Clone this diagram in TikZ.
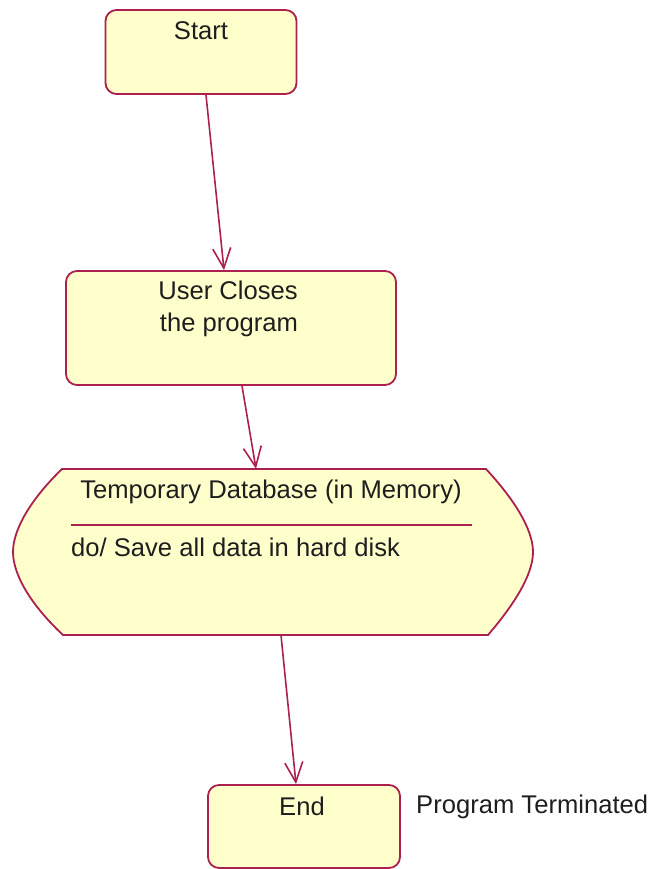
\documentclass[tikz,border=0pt]{standalone}
\usepackage{fontspec}
\setmainfont{Liberation Sans}
\usetikzlibrary{arrows.meta}
\definecolor{umlline}{RGB}{172,32,80}
\definecolor{umlfill}{RGB}{255,255,204}
\definecolor{umltext}{RGB}{30,30,30}
\tikzset{
  statebox/.style={draw=umlline, fill=umlfill, line width=1.8pt, rounded corners=11pt, inner sep=0pt},
  txt/.style={anchor=base, inner sep=0pt, text=umltext, font=\fontsize{25.6}{30}\selectfont},
  flow/.style={draw=umlline, line width=1.6pt, -{Straight Barb[length=20pt,width=18pt,line width=1.6pt]}},
  area/.style={inner sep=0pt, draw=none}
}
\begin{document}
\begin{tikzpicture}[x=1pt,y=-1pt]
\useasboundingbox (0,0) rectangle (653,869);
% Start
\node[statebox, minimum width=191pt, minimum height=84pt] (start) at (201,52) {};
\node[txt] (starttxt) at (201,40) {Start};
% User closes
\node[statebox, minimum width=330pt, minimum height=114pt] (user) at (231,328) {};
\node[txt] (usertxt1) at (228,299) {User Closes};
\node[txt] (usertxt2) at (229,331) {the program};
% Temporary database
\draw[draw=umlline, fill=umlfill, line width=1.8pt]
  (62,469) -- (486,469) .. controls (512,497) and (533,528) .. (533,552)
  .. controls (533,576) and (512,607) .. (488,635) -- (63,635)
  .. controls (33,607) and (13,576) .. (13,552)
  .. controls (13,528) and (33,497) .. (62,469) -- cycle;
\node[area, minimum width=520pt, minimum height=166pt] (db) at (273,552) {};
\draw[umlline, line width=1.8pt] (71,525) -- (472,525);
\node[txt] (dbtitle) at (271,498) {Temporary Database (in Memory)};
\node[txt, anchor=base west] (dbdo) at (71,556) {do/ Save all data in hard disk};
% End
\node[statebox, minimum width=192pt, minimum height=83pt] (end) at (304,826.5) {};
\node[txt] (endtxt) at (302,815) {End};
\node[txt, anchor=base west] (endnote) at (416,813) {Program Terminated};
% connectors
\draw[flow] ([xshift=5pt]start.south) -- ([xshift=-7pt]user.north);
\draw[flow] ([xshift=11pt]user.south) -- ([xshift=-17pt]db.north);
\draw[flow] ([xshift=8pt]db.south) -- ([xshift=-8pt]end.north);
\end{tikzpicture}
\end{document}
